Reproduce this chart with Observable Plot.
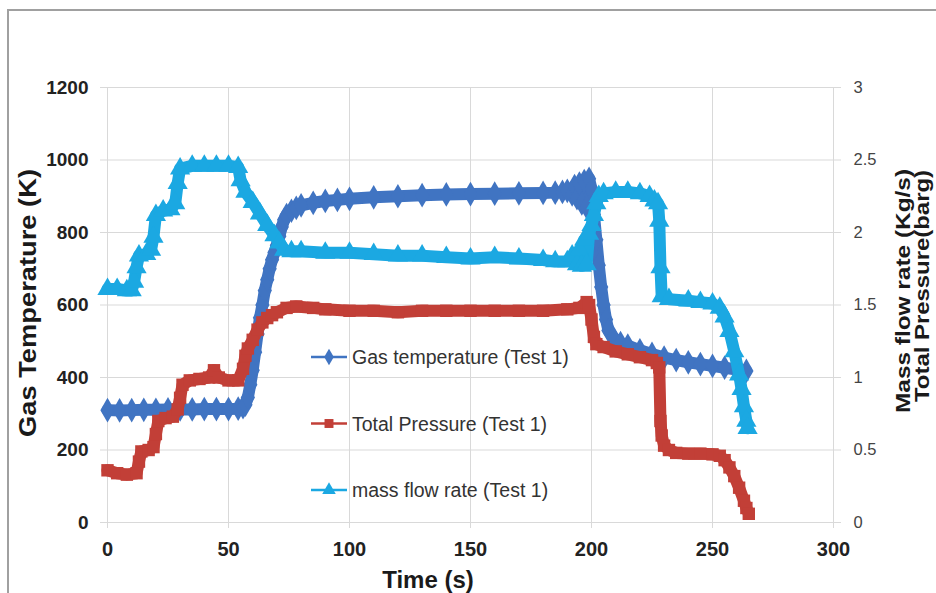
<!DOCTYPE html>
<html>
<head>
<meta charset="utf-8">
<script src="https://cdn.jsdelivr.net/npm/d3@7"></script>
<script src="https://cdn.jsdelivr.net/npm/@observablehq/plot@0.6"></script>
<style>
html,body{margin:0;padding:0;background:#fff;}
#wrap{position:relative;width:936px;height:593px;overflow:hidden;background:#fff;}
#frame{position:absolute;left:7px;top:9px;width:960px;height:620px;border-left:2px solid #a0a0a0;border-top:2px solid #a0a0a0;pointer-events:none;}
#wrap svg{position:absolute;left:0;top:0;}
</style>
</head>
<body>
<div id="wrap"><div id="frame"></div></div>
<script>
// ---- data (time s, value) ----
const gasTemperature = [
  [0,310],[5,309],[10,310],[15,311],[20,311],[25,312],[30,312],[35,312],[40,313],[45,313],
  [50,313],[54,314],[56,318],[57,325],[58,345],[59,380],[60,420],[61,470],[62,520],[63,565],
  [64,600],[65,640],[66,670],[67,700],[68,725],[69,745],[70,765],[71,790],[72,815],[73,835],
  [74,848],[76,860],[78,868],[80,875],[85,882],[90,887],[95,890],[100,893],[110,897],[120,900],
  [130,903],[140,905],[150,906],[160,907],[170,908],[180,909],[185,910],[188,912],[190,915],[192,905],
  [193,928],[194,895],[195,935],[196,880],[197,942],[198,870],[199,948],[200,920],[201,850],[202,780],
  [203,710],[204,650],[205,600],[206,560],[207,530],[209,510],[212,495],[215,488],[220,475],[225,465],
  [230,455],[235,448],[240,442],[245,437],[250,432],[255,427],[260,422],[264,418]
];
const totalPressure = [
  [0,0.36],[4,0.34],[8,0.33],[12,0.34],[13,0.42],[14,0.49],[17,0.5],[19,0.52],[20,0.61],[21,0.7],
  [24,0.72],[27,0.73],[29,0.78],[30,0.86],[31,0.95],[34,0.98],[38,0.99],[42,1.0],[44,1.05],[46,1.0],
  [50,0.98],[54,0.98],[56,1.06],[57,1.15],[58,1.2],[60,1.26],[62,1.33],[64,1.38],[66,1.41],[68,1.43],
  [70,1.45],[74,1.48],[78,1.49],[85,1.48],[90,1.47],[100,1.46],[110,1.46],[120,1.45],[130,1.46],[140,1.46],
  [150,1.46],[160,1.46],[170,1.46],[180,1.46],[190,1.47],[195,1.48],[198,1.52],[199,1.5],[200,1.4],[201,1.28],
  [202,1.23],[205,1.21],[210,1.18],[215,1.16],[220,1.14],[225,1.12],[227,1.1],[228,1.07],[228.5,0.7],[229,0.6],
  [230,0.53],[232,0.5],[235,0.48],[240,0.475],[245,0.475],[250,0.47],[253,0.46],[255,0.43],[257,0.38],[259,0.32],
  [261,0.24],[263,0.15],[264,0.1],[265,0.06]
];
const massFlowRate = [
  [0,1.61],[4,1.61],[8,1.6],[10,1.6],[11,1.66],[12,1.76],[13,1.84],[16,1.85],[18,1.88],[19,1.97],
  [20,2.12],[23,2.15],[26,2.16],[28,2.2],[29,2.34],[30,2.44],[35,2.46],[40,2.46],[45,2.46],[50,2.46],
  [54,2.45],[55,2.36],[57,2.28],[60,2.21],[63,2.13],[66,2.05],[69,1.98],[71,1.93],[73,1.88],[76,1.87],
  [80,1.87],[90,1.86],[100,1.86],[110,1.85],[120,1.84],[130,1.84],[140,1.83],[150,1.82],[160,1.83],[170,1.82],
  [180,1.81],[185,1.8],[190,1.8],[192,1.84],[194,1.78],[195,1.88],[196,1.77],[197,1.95],[198,1.78],[199,1.99],
  [200,2.05],[201,2.12],[202,2.2],[203,2.25],[205,2.27],[210,2.28],[215,2.28],[220,2.27],[224,2.25],[226,2.22],
  [227.5,2.2],[228,2.08],[228.5,1.76],[229,1.56],[232,1.54],[240,1.53],[245,1.52],[250,1.51],[253,1.48],[255,1.42],
  [257,1.32],[259,1.18],[261,1.02],[262,0.92],[263,0.8],[264,0.7],[264.5,0.65]
];
const xTicks = [0,50,100,150,200,250,300];
const leftTicks = [0,200,400,600,800,1000,1200];
const rightTicks = [0,0.5,1,1.5,2,2.5,3];
const seriesLabels = ["Gas temperature (Test 1)","Total Pressure (Test 1)","mass flow rate (Test 1)"];
const seriesColors = ["#4074c2","#c23f37","#1ba8e2"];
const seriesSymbols = ["diamond","square","triangle"];

const leftMax = 1200, rightMax = 3, k = leftMax / rightMax;
const temp = gasTemperature.map(([t,v]) => ({t, v}));
const pres = totalPressure.map(([t,v]) => ({t, v: v * k}));
const flow = massFlowRate.map(([t,v]) => ({t, v: v * k}));

const boldFont = "'Liberation Sans Narrow','Arial Narrow','Liberation Sans',Arial,sans-serif";
const sansFont = "'Liberation Sans',Arial,sans-serif";

const chart = Plot.plot({
  width: 936, height: 593,
  marginLeft: 107, marginRight: 103, marginTop: 87, marginBottom: 71,
  style: {background: "transparent", overflow: "visible"},
  x: {domain: [0, 300]},
  y: {domain: [0, leftMax]},
  marks: [
    Plot.gridX(xTicks, {stroke: "#d9d9d9", strokeOpacity: 1, strokeWidth: 1}),
    Plot.gridY(leftTicks, {stroke: "#d9d9d9", strokeOpacity: 1, strokeWidth: 1}),
    Plot.axisY(leftTicks, {anchor: "left", label: null, tickSize: 7, tickPadding: 12, stroke: "#d9d9d9",
      tickFormat: d => String(d), fontSize: 19, fontWeight: "bold", fontFamily: boldFont, fill: "#222"}),
    Plot.axisY(rightTicks.map(d => d * k), {anchor: "right", label: null, tickSize: 7, tickPadding: 13, stroke: "#d9d9d9",
      tickFormat: d => String(d / k), fontSize: 16.5, fontFamily: sansFont, fill: "#444"}),
    Plot.axisX(xTicks, {anchor: "bottom", label: null, tickSize: 6, tickPadding: 13, stroke: "#d9d9d9",
      tickFormat: d => String(d), fontSize: 20, fontWeight: "bold", fontFamily: boldFont, fill: "#222"}),
    Plot.line(temp, {x: "t", y: "v", stroke: seriesColors[0], strokeWidth: 12, strokeLinejoin: "round", strokeLinecap: "round"}),
    Plot.dot(temp, {x: "t", y: "v", symbol: seriesSymbols[0], r: 7.5, fill: seriesColors[0], stroke: null}),
    Plot.line(pres, {x: "t", y: "v", stroke: seriesColors[1], strokeWidth: 12, strokeLinejoin: "round", strokeLinecap: "round"}),
    Plot.dot(pres, {x: "t", y: "v", symbol: seriesSymbols[1], r: 7, fill: seriesColors[1], stroke: null}),
    Plot.line(flow, {x: "t", y: "v", stroke: seriesColors[2], strokeWidth: 12, strokeLinejoin: "round", strokeLinecap: "round"}),
    Plot.dot(flow, {x: "t", y: "v", symbol: seriesSymbols[2], r: 7.5, fill: seriesColors[2], stroke: null})
  ]
});
document.getElementById("wrap").insertBefore(chart, document.getElementById("frame"));

const svg = d3.select(chart);
// axis titles
svg.append("text").attr("transform", "translate(36,303) rotate(-90)")
  .attr("text-anchor", "middle").attr("font-family", sansFont).attr("font-weight", "bold")
  .attr("font-size", 23).attr("fill", "#1a1a1a").attr("textLength", 268).attr("lengthAdjust", "spacingAndGlyphs")
  .text("Gas Temperature (K)");
svg.append("text").attr("x", 428).attr("y", 588)
  .attr("text-anchor", "middle").attr("font-family", boldFont).attr("font-weight", "bold")
  .attr("font-size", 24).attr("fill", "#1a1a1a").text("Time (s)");
svg.append("text").attr("transform", "translate(910,291) rotate(-90)")
  .attr("text-anchor", "middle").attr("font-family", sansFont).attr("font-weight", "bold")
  .attr("font-size", 21).attr("fill", "#1a1a1a").attr("textLength", 244).attr("lengthAdjust", "spacingAndGlyphs")
  .text("Mass flow rate (Kg/s)");
svg.append("text").attr("transform", "translate(929,286) rotate(-90)")
  .attr("text-anchor", "middle").attr("font-family", sansFont).attr("font-weight", "bold")
  .attr("font-size", 20).attr("fill", "#1a1a1a").attr("textLength", 232).attr("lengthAdjust", "spacingAndGlyphs")
  .text("Total Pressure(barg)");

// legend
const symMap = {diamond: d3.symbolDiamond, square: d3.symbolSquare, triangle: d3.symbolTriangle};
const leg = svg.append("g").attr("text-anchor", "start");
seriesLabels.forEach((label, i) => {
  const y = 357 + i * 66.5;
  leg.append("line").attr("x1", 311).attr("x2", 347).attr("y1", y).attr("y2", y)
    .attr("stroke", seriesColors[i]).attr("stroke-width", 2.5);
  leg.append("path").attr("d", d3.symbol(symMap[seriesSymbols[i]], 80)())
    .attr("transform", `translate(329,${y})`).attr("fill", seriesColors[i]);
  leg.append("text").attr("x", 352).attr("y", y).attr("dy", "0.36em").attr("text-anchor", "start")
    .attr("font-family", sansFont).attr("font-size", 19.5).attr("fill", "#333")
    .text(label);
});
</script>
</body>
</html>
